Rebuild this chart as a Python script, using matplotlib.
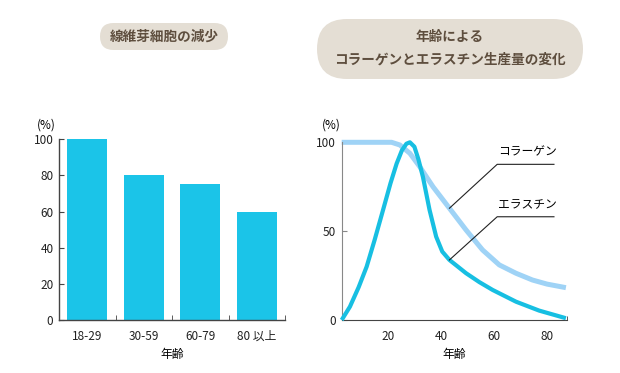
"""
fibroblast decrease / collagen & elastin production by age
"""
import matplotlib
matplotlib.use('Agg')
import matplotlib.pyplot as plt
from matplotlib.patches import FancyBboxPatch

plt.rcParams['font.family'] = ['Noto Sans CJK JP', 'DejaVu Sans']

# left chart data
ages = ['18-29', '30-59', '60-79', '80 以上']
fibro = [100, 80, 75, 60]

# right chart data
col_x = [2.6, 21.4, 24.5, 28.3, 32.0, 37.0, 43.2, 49.5, 55.7, 62.0, 68.3, 74.5, 80.0, 87.1]
col_y = [100, 100, 98.5, 93.8, 86.3, 75.0, 62.9, 50.6, 39.4, 31.0, 26.3, 22.5, 20.2, 18.2]
ela_x = [2.6, 5.7, 9.0, 12.0, 15.0, 18.2, 21.0, 23.3, 25.3, 27.0, 28.3, 30.0, 31.5, 33.2,
         35.7, 38.2, 40.5, 43.2, 49.5, 54.5, 59.5, 68.3, 77.0, 87.1]
ela_y = [0, 7.5, 18.5, 30.0, 45.0, 62.0, 77.0, 88.0, 95.5, 99.2, 100, 97.5, 90.5, 80.6,
         62.0, 46.9, 38.5, 33.8, 26.3, 21.3, 16.9, 10.3, 5.3, 1.0]

bar_col = '#1bc4e8'
col_col = '#9fd3f6'
ela_col = '#17bfe2'
pill_col = '#e4ded4'
title_col = '#5e4e3e'
axis_col = '#444444'

fig = plt.figure(figsize=(6.2, 3.73), dpi=100)

# overlay in pixel units for the title pills
bg = fig.add_axes([0, 0, 1, 1], zorder=-1)
bg.set_xlim(0, 620)
bg.set_ylim(373, 0)
bg.axis('off')

def pill(x0, y0, w, h, lines, ys):
	bg.add_patch(FancyBboxPatch((x0+h/2, y0), w-h, h,
		boxstyle='round,pad=0,rounding_size=%f' % (h/2),
		facecolor=pill_col, edgecolor='none'))
	bg.add_patch(FancyBboxPatch((x0, y0), w, h,
		boxstyle='round,pad=0,rounding_size=%f' % (h/2),
		facecolor=pill_col, edgecolor='none'))
	for t, y in zip(lines, ys):
		bg.text(x0+w/2, y, t, ha='center', va='center',
			fontsize=9.8, color=title_col, fontweight='bold')

pill(100, 23, 128, 27, ['線維芽細胞の減少'], [36.5])
pill(317, 19, 266, 60, ['年齢による', 'コラーゲンとエラスチン生産量の変化'], [37, 60])

# left bar chart
ax1 = fig.add_axes([59/620, 1-320/373, (285-59)/620, (320-139.3)/373])
ax1.bar(range(len(ages)), fibro, width=0.71, color=bar_col)
ax1.set_xlim(-0.5, 3.5)
ax1.set_ylim(0, 100)
ax1.set_yticks([0, 20, 40, 60, 80, 100])
ax1.set_xticks(range(len(ages)))
ax1.set_xticklabels(ages)
ax1.set_xticks([0.5, 1.5, 2.5, 3.5], minor=True)
ax1.tick_params(axis='x', which='major', length=0, pad=7, labelsize=8.5, colors='#222222')
ax1.tick_params(axis='x', which='minor', direction='in', length=3.5, color=axis_col)
ax1.tick_params(axis='y', direction='in', length=3.5, pad=4, labelsize=8.5,
	colors='#222222', color=axis_col)
ax1.set_xlabel('年齢', fontsize=8.5, labelpad=4)
ax1.text(-0.058, 1.079, '(%)', transform=ax1.transAxes, fontsize=8.5, ha='center', va='center')
for s in ['top', 'right']:
	ax1.spines[s].set_visible(False)
for s in ['left', 'bottom']:
	ax1.spines[s].set_color(axis_col)
	ax1.spines[s].set_linewidth(1.0)

# right line chart
ax2 = fig.add_axes([341.7/620, 1-320/373, (566.7-341.7)/620, (320-142.3)/373])
ax2.plot(col_x, col_y, color=col_col, lw=3.6, solid_capstyle='butt', zorder=2, clip_on=False)
ax2.plot(ela_x, ela_y, color=ela_col, lw=3.0, solid_capstyle='butt', zorder=3, clip_on=False)
ax2.set_xlim(2.6, 87.4)
ax2.set_ylim(0, 100)
ax2.set_xticks([20, 40, 60, 80])
ax2.set_xticks([87.4], minor=True)
ax2.set_yticks([0, 50, 100])
ax2.tick_params(axis='x', which='major', length=0, pad=7, labelsize=8.5, colors='#222222')
ax2.tick_params(axis='x', which='minor', direction='in', length=3, color=axis_col)
ax2.tick_params(axis='y', direction='in', length=3.5, pad=4, labelsize=8.5,
	colors='#222222', color='#888888')
ax2.set_xlabel('年齢', fontsize=8.5, labelpad=4)
ax2.text(-0.048, 1.097, '(%)', transform=ax2.transAxes, fontsize=8.5, ha='center', va='center')
for s in ['top', 'right']:
	ax2.spines[s].set_visible(False)
ax2.spines['left'].set_color('#888888')
ax2.spines['bottom'].set_color(axis_col)

# leader lines and labels
ax2.plot([43.2, 61.2, 82.6], [62.9, 87.6, 87.6], color='#222222', lw=0.8, zorder=4)
ax2.plot([43.2, 61.2, 82.6], [33.8, 58.1, 58.1], color='#222222', lw=0.8, zorder=4)
ax2.text(72.5, 94.5, 'コラーゲン', fontsize=8.5, ha='center', va='center')
ax2.text(72.5, 65.0, 'エラスチン', fontsize=8.5, ha='center', va='center')

plt.savefig('out.png', dpi=100)
